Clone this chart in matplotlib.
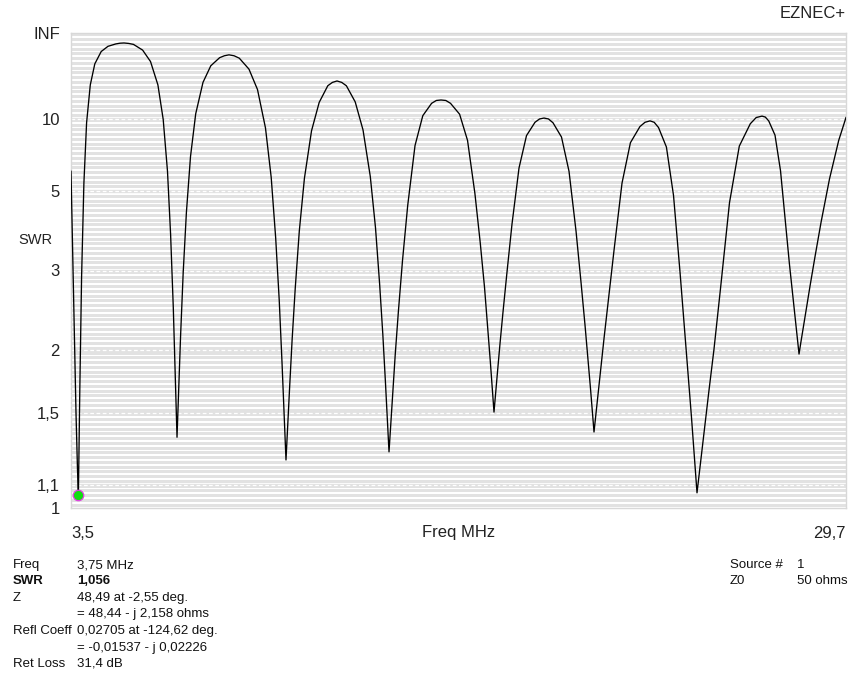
import numpy as np
import matplotlib
matplotlib.use("Agg")
import matplotlib.pyplot as plt

# SWR sweep, 3.5 - 29.7 MHz
freq_mhz = [
    3.500, 3.585, 3.669, 3.720, 3.750,
    3.797, 3.858, 3.936, 4.027, 4.152, 4.305, 4.521, 4.751, 5.015, 5.153, 5.292,
    5.454, 5.613, 5.921, 6.188, 6.438, 6.617, 6.762, 6.867, 6.958, 7.029, 7.084,
    7.138, 7.205, 7.293, 7.401, 7.540, 7.716, 7.962, 8.226, 8.524, 8.683, 8.841,
    9.014, 9.190, 9.516, 9.805, 10.075, 10.268, 10.420, 10.539, 10.633, 10.711, 10.768,
    10.819, 10.890, 10.975, 11.080, 11.218, 11.391, 11.631, 11.891, 12.182, 12.337, 12.493,
    12.652, 12.810, 13.108, 13.372, 13.618, 13.794, 13.933, 14.041, 14.129, 14.197, 14.251,
    14.305, 14.372, 14.460, 14.568, 14.707, 14.883, 15.130, 15.393, 15.691, 15.850, 16.009,
    16.171, 16.330, 16.637, 16.905, 17.155, 17.334, 17.479, 17.584, 17.675, 17.746, 17.800,
    17.851, 17.919, 18.003, 18.105, 18.240, 18.409, 18.646, 18.899, 19.186, 19.339, 19.491,
    19.643, 19.795, 20.082, 20.336, 20.573, 20.742, 20.877, 20.978, 21.063, 21.130, 21.181,
    21.239, 21.313, 21.408, 21.523, 21.675, 21.864, 22.128, 22.412, 22.733, 22.905, 23.074,
    23.216, 23.362, 23.629, 23.869, 24.092, 24.251, 24.376, 24.474, 24.552, 24.616, 24.663,
    24.731, 24.819, 24.927, 25.059, 25.235, 25.454, 25.762, 26.093, 26.465, 26.665, 26.861,
    26.972, 27.087, 27.300, 27.486, 27.662, 27.787, 27.885, 27.963, 28.024, 28.074, 28.112,
    28.172, 28.257, 28.358, 28.483, 28.649, 28.855, 29.143, 29.454, 29.700,
]
swr = [
    5.87, 2.636, 1.5, 1.174, 1.056,
    1.653, 2.899, 5.33, 9.58, 17.3, 29.8, 50.3, 70.4, 86.0, 92.0, 94.2,
    89.9, 82.3, 54.6, 32.3, 17.3, 9.99, 5.87, 3.72, 2.46, 1.743, 1.350,
    1.642, 2.140, 2.968, 4.291, 6.69, 10.76, 18.23, 27.99, 37.46, 40.7, 42.5,
    40.7, 36.7, 25.3, 15.8, 9.0, 5.58, 3.63, 2.559, 1.886, 1.472, 1.225,
    1.398, 1.677, 2.096, 2.717, 3.796, 5.536, 8.71, 12.70, 17.02, 18.23, 18.80,
    18.23, 17.0, 12.79, 8.80, 5.62, 3.878, 2.788, 2.155, 1.725, 1.445, 1.268,
    1.413, 1.628, 1.950, 2.413, 3.175, 4.510, 7.44, 10.49, 12.51, 13.08, 13.18,
    13.08, 12.51, 10.70, 7.85, 4.917, 3.535, 2.738, 2.241, 1.894, 1.663, 1.506,
    1.628, 1.805, 2.058, 2.407, 2.976, 3.975, 6.04, 8.26, 9.64, 10.05, 10.17,
    10.05, 9.58, 8.13, 5.87, 3.796, 2.810, 2.252, 1.911, 1.670, 1.497, 1.381,
    1.481, 1.628, 1.833, 2.120, 2.584, 3.405, 5.33, 7.66, 9.15, 9.64, 9.81,
    9.64, 9.05, 7.33, 4.848, 2.953, 2.170, 1.740, 1.478, 1.291, 1.157, 1.066,
    1.146, 1.257, 1.418, 1.642, 1.999, 2.704, 4.602, 7.40, 9.47, 10.24, 10.43,
    10.30, 9.81, 8.30, 5.90, 3.938, 3.115, 2.683, 2.407, 2.205, 2.063, 1.959,
    2.067, 2.226, 2.442, 2.752, 3.237, 4.012, 5.515, 7.85, 10.24,
]

f_start, f_stop = 3.5, 29.7
swr_ticks = [1, 1.1, 1.5, 2, 3, 5, 10, np.inf]
swr_tick_labels = ["1", "1,1", "1,5", "2", "3", "5", "10", "INF"]
grid_swr = [1.1, 1.5, 2, 3, 5, 10]

cursor_freq = 3.75
cursor_swr = 1.056

info_labels = ["Freq", "SWR", "Z", "", "Refl Coeff", "", "Ret Loss"]
info_values = ["3,75 MHz", "1,056", "48,49 at -2,55 deg.", "= 48,44 - j 2,158 ohms",
               "0,02705 at -124,62 deg.", "= -0,01537 - j 0,02226", "31,4 dB"]
source_labels = ["Source #", "Z0"]
source_values = ["1", "50 ohms"]


def refl(s):
    """SWR -> reflection coefficient magnitude (the vertical scale)."""
    s = np.asarray(s, dtype=float)
    return 1.0 - 2.0 / (s + 1.0)


W, H = 848, 678
fig = plt.figure(figsize=(W / 100, H / 100), dpi=100)
ax = fig.add_axes([71 / W, 1 - 508 / H, 775 / W, 475 / H])

FONT = "Liberation Sans"
INK = "#222222"

# striped background
for k in range(100):
    ax.axhspan(k / 100 + 0.003, k / 100 + 0.009, color="#e2e2e2", lw=0, zorder=0)

# dashed grid at the labelled SWR values
for s in grid_swr:
    r = float(refl(s))
    ax.axhline(r, color="#e2e2e2", lw=2.4, zorder=1)
    ax.axhline(r, color="white", lw=0.9, dashes=(3, 2), zorder=1.1)

ax.plot(freq_mhz, refl(swr), color="black", lw=0.95, zorder=3)
ax.plot([cursor_freq], [refl(cursor_swr)], "o", ms=7.5, mfc="#11dd11",
        mec="#e040e0", mew=0.9, zorder=4)

ax.set_xlim(f_start, f_stop)
ax.set_ylim(0, 1)

ax.set_yticks(refl(swr_ticks))
ax.set_yticklabels(swr_tick_labels, fontfamily=FONT, fontsize=12)
ax.set_xticks([f_start, f_stop])
ax.set_xticklabels(["3,5", "29,7"], fontfamily=FONT, fontsize=12)
xl = ax.get_xticklabels()
xl[0].set_ha("left")
xl[1].set_ha("right")
ax.tick_params(axis="y", length=0, pad=8, colors=INK)
ax.tick_params(axis="x", length=0, pad=13, colors=INK)

ax.set_xlabel("Freq MHz", fontfamily=FONT, fontsize=12, color=INK)
ax.xaxis.set_label_coords(0.5, -0.0526)
ax.xaxis.label.set_va("center")

ax.text(-0.024, 0.564, "SWR", transform=ax.transAxes, ha="right", va="center",
        fontfamily=FONT, fontsize=10.5, color=INK)

for sp in ax.spines.values():
    sp.set_color("#d8d8d8")
    sp.set_linewidth(1.0)

fig.text(846 / W, 1 - 14 / H, "EZNEC+", ha="right", va="center",
         fontfamily=FONT, fontsize=12, color=INK)

# readout block
row0, dy = 565, 16.5
for i, (lab, val) in enumerate(zip(info_labels, info_values)):
    y = 1 - (row0 + i * dy) / H
    weight = "bold" if lab == "SWR" else "normal"
    fig.text(13 / W, y, lab, ha="left", va="center", fontfamily=FONT,
             fontsize=9.5, fontweight=weight, color="#111111")
    fig.text(77 / W, y, val, ha="left", va="center", fontfamily=FONT,
             fontsize=9.5, fontweight=weight, color="#111111")

for i, (lab, val) in enumerate(zip(source_labels, source_values)):
    y = 1 - (row0 + i * dy) / H
    fig.text(730 / W, y, lab, ha="left", va="center", fontfamily=FONT,
             fontsize=9.5, color="#111111")
    fig.text(797 / W, y, val, ha="left", va="center", fontfamily=FONT,
             fontsize=9.5, color="#111111")

fig.savefig("out.png", dpi=100)
